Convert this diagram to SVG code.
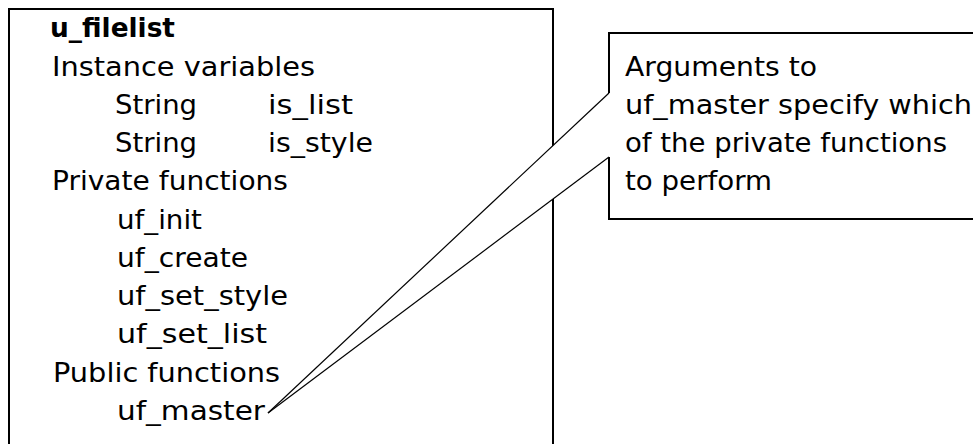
<svg xmlns="http://www.w3.org/2000/svg" width="973" height="444" viewBox="0 0 973 444">
<style>
.t{font-family:"DejaVu Sans","Liberation Sans",Arial,sans-serif;font-size:26px;fill:#000}
.b{font-weight:bold}
.box{fill:#fff;stroke:#000;stroke-width:2}
.edge{fill:none;stroke:#000;stroke-width:2}
.lead{fill:none;stroke:#000;stroke-width:1.2}
</style>
<rect width="973" height="444" fill="#fff"/>
<g id="u_filelist">
<rect class="box" x="9" y="9" width="544" height="436"/>
<text class="t b" x="50" y="37" textLength="125" lengthAdjust="spacingAndGlyphs">u_filelist</text>
<text class="t" x="52" y="76" textLength="263" lengthAdjust="spacingAndGlyphs">Instance variables</text>
<text class="t" x="115" y="114" textLength="82" lengthAdjust="spacingAndGlyphs">String</text>
<text class="t" x="268" y="114" textLength="85" lengthAdjust="spacingAndGlyphs">is_list</text>
<text class="t" x="115" y="152" textLength="82" lengthAdjust="spacingAndGlyphs">String</text>
<text class="t" x="268" y="152" textLength="105" lengthAdjust="spacingAndGlyphs">is_style</text>
<text class="t" x="52" y="190" textLength="236" lengthAdjust="spacingAndGlyphs">Private functions</text>
<text class="t" x="117" y="229" textLength="85" lengthAdjust="spacingAndGlyphs">uf_init</text>
<text class="t" x="117" y="267" textLength="131" lengthAdjust="spacingAndGlyphs">uf_create</text>
<text class="t" x="117" y="305" textLength="171" lengthAdjust="spacingAndGlyphs">uf_set_style</text>
<text class="t" x="117" y="343" textLength="150" lengthAdjust="spacingAndGlyphs">uf_set_list</text>
<text class="t" x="53" y="382" textLength="227" lengthAdjust="spacingAndGlyphs">Public functions</text>
<text class="t" x="117" y="420" textLength="148" lengthAdjust="spacingAndGlyphs">uf_master</text>
</g>
<g id="note">
<polygon points="609,33 985,33 985,219 609,219 609,157 268,413 609,93" fill="#fff" stroke="none"/>
<path class="edge" d="M609,93 V33 H985 V219 H609 V157"/>
<text class="t" x="625" y="76" textLength="192" lengthAdjust="spacingAndGlyphs">Arguments to</text>
<text class="t" x="625" y="114" textLength="347" lengthAdjust="spacingAndGlyphs">uf_master specify which</text>
<text class="t" x="625" y="152" textLength="322" lengthAdjust="spacingAndGlyphs">of the private functions</text>
<text class="t" x="625" y="190" textLength="147" lengthAdjust="spacingAndGlyphs">to perform</text>
</g>
<g id="connectors">
<line class="lead" x1="609" y1="93" x2="268" y2="413"/>
<line class="lead" x1="609" y1="157" x2="268" y2="413"/>
</g>
</svg>
